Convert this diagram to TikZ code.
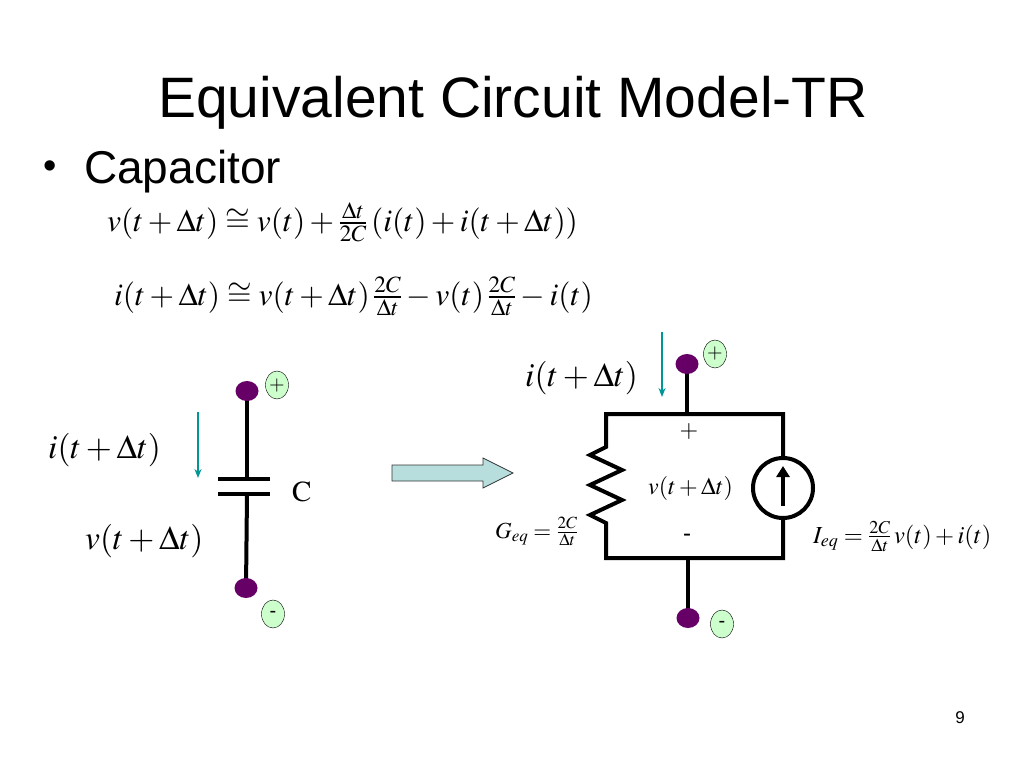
\documentclass[tikz,border=0pt]{standalone}
\usepackage{mathptmx}
\usepackage[no-math]{fontspec}
\setmainfont{Liberation Sans}
\usepackage{tikz}
\usetikzlibrary{shapes.geometric}
\usetikzlibrary{arrows.meta}

\definecolor{termpurple}{RGB}{102,0,102}
\definecolor{signgreen}{RGB}{204,255,204}
\definecolor{currteal}{RGB}{0,150,150}
\definecolor{arrowblue}{RGB}{183,221,221}

\newcommand{\fs}[1]{\fontsize{#1}{#1}\selectfont}

\tikzset{
	wire/.style={line width=4pt, line join=miter},
	term/.style={ellipse, fill=termpurple, minimum width=23pt, minimum height=20pt, inner sep=0pt},
	sign/.style={ellipse, draw, fill=signgreen, minimum width=23pt, minimum height=28pt, inner sep=0pt, font=\fs{20}},
	curr/.style={currteal, line width=2pt, -{Stealth[length=9pt,width=7pt]}},
	lbl/.style={anchor=base west, inner sep=0pt}
}

\begin{document}
\begin{tikzpicture}[x=1pt,y=-1pt]
	\useasboundingbox (0,0) rectangle (1024,768);
	% heading
	\node[anchor=base] (title) at (513,117) {\fs{57}Equivalent Circuit Model-TR};
	\node (bullet) at (50,170) {\fs{38}•};
	\node[lbl] (capword) at (84,183) {\fs{46}Capacitor};
	\node[lbl, font=\fs{31.5}] (eqv) at (107,231) {$v(t+\Delta t)\cong v(t)+\frac{\Delta t}{2C}\,(i(t)+i(t+\Delta t))$};
	\node[lbl, font=\fs{31.5}] (eqi) at (114,305) {$i(t+\Delta t)\cong v(t+\Delta t)\,\frac{2C}{\Delta t}-v(t)\,\frac{2C}{\Delta t}-i(t)$};

	% capacitor
	\coordinate (plateA) at (247,479);
	\coordinate (plateB) at (247,494);
	\draw[wire] (247,391) -- (plateA);
	\draw[wire] (plateB) -- (246,588);
	\draw[wire] (218,479) -- (270,479);
	\draw[wire] (218,494) -- (270,494);
	\node[term] (ltop) at (247,391) {};
	\node[term] (lbot) at (246,588) {};
	\node[sign] (lplus) at (277,385) {$+$};
	\node[sign] (lminus) at (273,614) {-};
	\coordinate (lcurA) at (198,412);
	\coordinate (lcurB) at (198,478);
	\draw[curr] (lcurA) -- (lcurB);
	\node[lbl, font=\fs{33.5}] (lcur) at (48,458) {$i(t+\Delta t)$};
	\node[lbl, font=\fs{29}] (cname) at (292,501) {$\mathrm{C}$};
	\node[lbl, font=\fs{33.5}] (lvolt) at (85,549) {$v(t+\Delta t)$};

	% block arrow
	\draw[fill=arrowblue, draw=black!80, line width=0.8pt] (392,465) -- (483,465) -- (483,458) -- (513,473) -- (483,488) -- (483,481) -- (392,481) -- cycle;

	% companion model
	\coordinate (tl) at (606,414);
	\coordinate (tr) at (783,414);
	\coordinate (bl) at (606,558);
	\coordinate (br) at (783,558);
	\coordinate (tm) at (687,414);
	\coordinate (bm) at (688,558);
	\node[circle, draw, line width=4pt, minimum size=60pt, inner sep=0pt] (src) at (783,488) {};
	\draw[wire] (src.north) -- (tr) -- (tl) -- (606,447) -- (590,455) -- (622,470) -- (590,485)
		-- (622,500) -- (590,515) -- (606,523) -- (bl) -- (br) -- (src.south);
	\draw[line width=4pt, -{Triangle[length=11pt,width=13pt]}] (783,506) -- (783,466);
	\draw[wire] (tm) -- (687,364);
	\draw[wire] (bm) -- (688,618);
	\node[term] (rtop) at (687,364) {};
	\node[term] (rbot) at (688,618) {};
	\node[sign] (rplus) at (715,354) {$+$};
	\node[sign] (rminus) at (722,624) {-};
	\coordinate (rcurA) at (662,332);
	\coordinate (rcurB) at (662,397);
	\draw[curr] (rcurA) -- (rcurB);
	\node[lbl, font=\fs{33.5}] (rcur) at (525,386) {$i(t+\Delta t)$};
	\node[font=\fs{24}] (vplus) at (689,431) {$+$};
	\node[font=\fs{24}] (vminus) at (687,538) {-};
	\node[lbl, font=\fs{24}] (rvolt) at (648,494) {$v(t+\Delta t)$};
	\node[lbl, font=\fs{23}] (geq) at (495,538) {$G_{eq}=\frac{2C}{\Delta t}$};
	\node[lbl, font=\fs{24.5}] (ieq) at (813,543) {$I_{eq}=\frac{2C}{\Delta t}\,v(t)+i(t)$};

	\node (pagenum) at (960,718) {\fs{17}9};
\end{tikzpicture}
\end{document}
